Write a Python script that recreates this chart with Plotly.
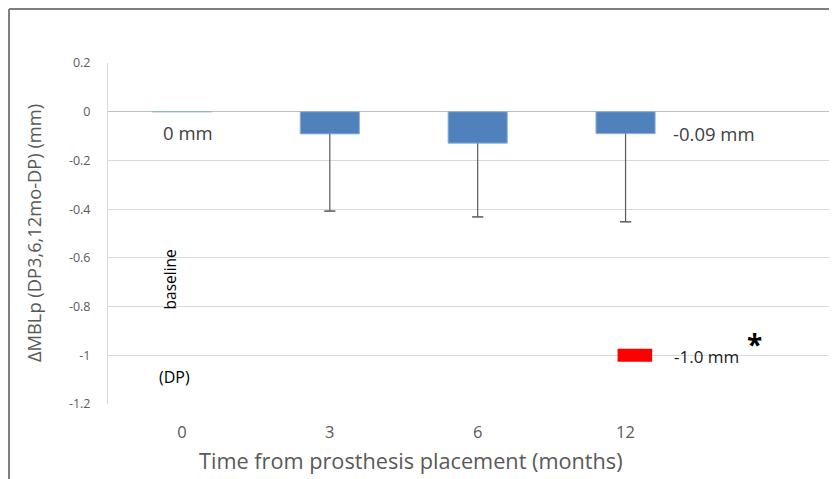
import plotly.graph_objects as go

# ---- data ----
months = ["0", "3", "6", "12"]
mean_change = [0.0, -0.091, -0.129, -0.09]
lower_bound = [0.0, -0.408, -0.432, -0.452]
ref_label_month = "12"
ref_value = -1.0
ref_halfheight = 0.027
y_ticks = [0.2, 0, -0.2, -0.4, -0.6, -0.8, -1, -1.2]

FONT = "Open Sans"
GREY = "#595959"

fig = go.Figure()

# blue bars
fig.add_trace(go.Bar(
    x=months, y=mean_change, width=0.4, offset=-0.2,
    marker=dict(color="#4F81BD", line=dict(color="#8FB0DA", width=1)),
    showlegend=False, hoverinfo="skip"))

# red reference bar (-1.0 mm)
fig.add_trace(go.Bar(
    x=[ref_label_month], y=[2 * ref_halfheight], base=[ref_value - ref_halfheight],
    width=0.234, offset=-0.054,
    marker=dict(color="#FF0000", line=dict(width=0)),
    showlegend=False, hoverinfo="skip"))

# downward error whiskers
ex, ey = [], []
for m, v, lo in zip(months[1:], mean_change[1:], lower_bound[1:]):
    ex += [m, m, None]
    ey += [v, lo, None]
fig.add_trace(go.Scatter(x=ex, y=ey, mode="lines",
                         line=dict(color=GREY, width=1.2),
                         showlegend=False, hoverinfo="skip"))
fig.add_trace(go.Scatter(x=months[1:], y=lower_bound[1:], mode="markers",
                         marker=dict(symbol="line-ew", size=8,
                                     line=dict(color=GREY, width=1.5)),
                         showlegend=False, hoverinfo="skip"))

annos = [
    dict(x=0.044, y=-0.084, text="0 mm", font=dict(size=18.5, color="#404040")),
    dict(x=3.6, y=-0.088, text="-0.09 mm", font=dict(size=18.5, color="#404040")),
    dict(x=3.55, y=-1.003, text="-1.0 mm", font=dict(size=17, color="#1a1a1a")),
    dict(x=3.87, y=-0.955, text="<b>*</b>", font=dict(size=28, color="#000000")),
    dict(x=-0.08, y=-0.688, text="baseline", textangle=-90,
         font=dict(size=15.5, color="#000000")),
    dict(x=-0.05, y=-1.09, text="(DP)", font=dict(size=16, color="#000000")),
]
for a in annos:
    fig.add_annotation(xref="x", yref="y", showarrow=False,
                       xanchor="center", yanchor="middle", **a)

# axis titles as annotations
fig.add_annotation(xref="paper", yref="paper", x=-0.1015, y=0.5015,
                   text="ΔMBLp (DP3,6,12mo-DP) (mm)", textangle=-90,
                   showarrow=False, xanchor="center", yanchor="middle",
                   font=dict(size=18.3, color=GREY, family=FONT))
fig.add_annotation(xref="paper", yref="paper", x=0.4156, y=-0.167,
                   text="Time from prosthesis placement (months)",
                   showarrow=False, xanchor="center", yanchor="middle",
                   font=dict(size=21.7, color=GREY, family=FONT))

# outer frame
fig.add_shape(type="line", xref="paper", yref="paper",
              x0=-0.1358, y0=1.1584, x1=1.02, y1=1.1584,
              line=dict(color="#7f7f7f", width=2))
fig.add_shape(type="line", xref="paper", yref="paper",
              x0=-0.1358, y0=1.1584, x1=-0.1358, y1=-0.25,
              line=dict(color="#7f7f7f", width=2))

# page body has an 8px margin, so the figure is 8px smaller than the window
fig.update_layout(
    width=829, height=471,
    margin=dict(l=100, r=0, t=55, b=75),
    paper_bgcolor="white", plot_bgcolor="white",
    font=dict(family=FONT, color=GREY),
    barmode="overlay",
    xaxis=dict(
        type="category", categoryorder="array", categoryarray=months,
        range=[-0.5, 4.43], showgrid=False, showline=False, zeroline=False,
        tickfont=dict(size=16.5, color=GREY), ticks="", ticklabelstandoff=16,
        fixedrange=True),
    yaxis=dict(
        range=[-1.2, 0.2], tickvals=y_ticks,
        ticktext=[("%g" % v) for v in y_ticks],
        showgrid=True, gridcolor="#d9d9d9", gridwidth=1,
        zeroline=True, zerolinecolor="#c0c0c0", zerolinewidth=1,
        showline=True, linecolor="#d9d9d9", linewidth=1,
        tickfont=dict(size=12.5, color=GREY), ticks="", ticklabelstandoff=14,
        fixedrange=True),
)

fig.write_html("out.html")
